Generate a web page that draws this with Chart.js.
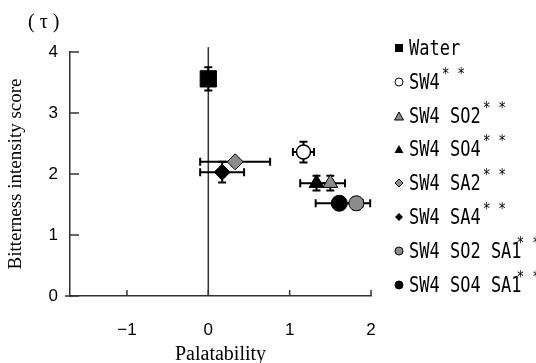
<!DOCTYPE html>
<html>
<head>
<meta charset="utf-8">
<script src="https://cdn.jsdelivr.net/npm/chart.js@4"></script>
<style>
  body { margin: 0; background: #fff; }
  #wrap { position: relative; width: 536px; height: 363px; overflow: hidden; }
  #tau { position: absolute; left: 28px; top: 10px; font: 20px "Liberation Serif"; color: #000; }
  .leg { position: absolute; left: 394px; height: 20px; line-height: 20px; font: 17px "DejaVu Sans Mono"; white-space: nowrap; color: #000; }
  .leg svg { position: absolute; left: 0; top: 5px; }
  .leg span { position: absolute; left: 15px; top: 0; transform: scaleY(1.2); transform-origin: 0 60%; }
  .leg sup { font-size: 13px; position: relative; top: -2px; vertical-align: top; line-height: 12px; margin-left: 2px; }
</style>
</head>
<body>
<div id="wrap">
  <canvas id="myChart"></canvas>
  <div id="tau">( τ )</div>
</div>
<script>
    // samples and their values
    let names = ['Water', 'SW4', 'SW4 SO2', 'SW4 SO4', 'SW4 SA2', 'SW4 SA4', 'SW4 SO2 SA1', 'SW4 SO4 SA1'];
    let stars = ['', '* *', '* *', '* *', '* *', '* *', '* *', '* *'];
    let palat = [0, 1.17, 1.50, 1.33, 0.33, 0.17, 1.82, 1.61];
    let bitter = [3.56, 2.36, 1.85, 1.85, 2.20, 2.03, 1.52, 1.52];
    let palatErr = [0, 0.13, 0.18, 0.20, 0.43, 0.27, 0.17, 0.29];
    let bitterErr = [0.19, 0.17, 0.12, 0.12, 0.06, 0.17, 0.10, 0.10];
    let xTicks = [-1, 0, 1, 2];
    let yTicks = [0, 1, 2, 3, 4];

    // marker looks
    let shapes = ['rect', 'circle', 'triangle', 'triangle', 'rectRot', 'rectRot', 'circle', 'circle'];
    let fills = ['#000', '#fff', '#8c8c8c', '#000', '#8c8c8c', '#000', '#8c8c8c', '#000'];
    let sizes = [11.5, 7, 8.5, 8.5, 8, 8, 7.5, 8];


const errorBars = {
    id: 'errorBars',
    beforeDatasetsDraw(chart) {
        const { ctx, scales: { x, y } } = chart;
        ctx.save();
        // line at palatability 0
        ctx.strokeStyle = '#333';
        ctx.lineWidth = 1.5;
        ctx.beginPath();
        ctx.moveTo(x.getPixelForValue(0), y.getPixelForValue(0));
        ctx.lineTo(x.getPixelForValue(0), y.getPixelForValue(4.08));
        ctx.stroke();

        ctx.strokeStyle = '#000';
        ctx.lineWidth = 2;
        names.forEach((n, i) => {
            let px = x.getPixelForValue(palat[i]);
            let py = y.getPixelForValue(bitter[i]);
            if (palatErr[i]) {
                let x0 = x.getPixelForValue(palat[i] - palatErr[i]);
                let x1 = x.getPixelForValue(palat[i] + palatErr[i]);
                ctx.beginPath();
                ctx.moveTo(x0, py); ctx.lineTo(x1, py);
                ctx.moveTo(x0, py - 4); ctx.lineTo(x0, py + 4);
                ctx.moveTo(x1, py - 4); ctx.lineTo(x1, py + 4);
                ctx.stroke();
            }
            if (bitterErr[i]) {
                let y0 = y.getPixelForValue(bitter[i] - bitterErr[i]);
                let y1 = y.getPixelForValue(bitter[i] + bitterErr[i]);
                ctx.beginPath();
                ctx.moveTo(px, y0); ctx.lineTo(px, y1);
                ctx.moveTo(px - 4, y0); ctx.lineTo(px + 4, y0);
                ctx.moveTo(px - 4, y1); ctx.lineTo(px + 4, y1);
                ctx.stroke();
            }
        });
        ctx.restore();
    },
    afterDraw(chart) {
        // tick marks point into the plot
        const { ctx, scales: { x, y }, chartArea } = chart;
        ctx.save();
        ctx.strokeStyle = '#333';
        ctx.lineWidth = 1.5;
        ctx.beginPath();
        yTicks.forEach(v => {
            let py = y.getPixelForValue(v);
            ctx.moveTo(chartArea.left, py);
            ctx.lineTo(chartArea.left + 9, py);
        });
        xTicks.forEach(v => {
            let px = x.getPixelForValue(v);
            ctx.moveTo(px, chartArea.bottom);
            ctx.lineTo(px, chartArea.bottom - 6);
        });
        ctx.moveTo(chartArea.left - 5, chartArea.bottom);
        ctx.lineTo(chartArea.left, chartArea.bottom);
        ctx.stroke();
        ctx.restore();
    }
};

function buildLegend() {
    const wrap = document.getElementById('wrap');
    names.forEach((n, i) => {
        let row = document.createElement('div');
        row.className = 'leg';
        row.style.top = (38 + i * 33.8) + 'px';
        let icon = '';
        let f = fills[i];
        let st = 'stroke="#000" stroke-width="1"';
        if (shapes[i] === 'rect') icon = `<rect x="1" y="1" width="8" height="8" fill="${f}"/>`;
        if (shapes[i] === 'circle') icon = `<circle cx="5" cy="5" r="4" fill="${f}" ${st}/>`;
        if (shapes[i] === 'triangle') icon = `<polygon points="5,1 9.5,9 0.5,9" fill="${f}" ${f === '#000' ? '' : st}/>`;
        if (shapes[i] === 'rectRot') icon = `<polygon points="5,1 9,5 5,9 1,5" fill="${f}" ${f === '#000' ? '' : st}/>`;
        // the stars tuck in over a trailing "1"
        let tuck = n.endsWith('1') ? ' style="margin-left:-5px"' : '';
        row.innerHTML = `<svg width="10" height="10">${icon}</svg><span>${n}<sup${tuck}>${stars[i]}</sup></span>`;
        wrap.appendChild(row);
    });
}


let myChart;

function renderChart() {
    const ctx = document.getElementById('myChart');

    let datasets = names.map((n, i) => ({
        label: n,
        data: [{ x: palat[i], y: bitter[i] }],
        pointStyle: shapes[i],
        pointRadius: sizes[i],
        backgroundColor: fills[i],
        borderColor: '#000',
        borderWidth: fills[i] === '#fff' ? 1.5 : 1,
        clip: false
    }));

    myChart = new Chart(ctx, {
        type: 'scatter',
        data: { datasets: datasets },
        options: {
            responsive: true,
            maintainAspectRatio: false,
            animation: false,
            layout: { padding: { top: 52, right: 165, left: 0, bottom: 0 } },
            plugins: {
                legend: { display: false },
                tooltip: { enabled: false }
            },
            scales: {
                x: {
                    type: 'linear',
                    min: -1.7,
                    max: 2,
                    afterBuildTicks: s => { s.ticks = xTicks.map(v => ({ value: v })); },
                    afterFit: s => { s.height = 67; },
                    ticks: {
                        callback: v => v < 0 ? '\u2212' + Math.abs(v) : String(v),
                        font: { family: 'Liberation Sans', size: 17 },
                        color: '#000',
                        padding: 24
                    },
                    grid: { display: false, drawTicks: false },
                    border: { color: '#333', width: 1.5 },
                    title: {
                        display: true,
                        text: 'Palatability',
                        color: '#000',
                        font: { family: 'Liberation Serif', size: 20, lineHeight: 1 },
                        padding: { top: 0, bottom: -2 }
                    }
                },
                y: {
                    min: 0,
                    max: 4,
                    afterBuildTicks: s => { s.ticks = yTicks.map(v => ({ value: v })); },
                    afterFit: s => { s.width = 70; },
                    ticks: {
                        font: { family: 'Liberation Sans', size: 17 },
                        color: '#000',
                        padding: 12
                    },
                    grid: { display: false, drawTicks: false },
                    border: { color: '#333', width: 1.5 },
                    title: {
                        display: true,
                        text: 'Bitterness intensity score',
                        color: '#000',
                        font: { family: 'Liberation Serif', size: 19, lineHeight: 1.2 },
                        padding: { top: 5, bottom: 0 }
                    }
                }
            }
        },
        plugins: [errorBars]
    });
}

window.onload = function () {
    renderChart();
    buildLegend();
};
</script>
</body>
</html>
